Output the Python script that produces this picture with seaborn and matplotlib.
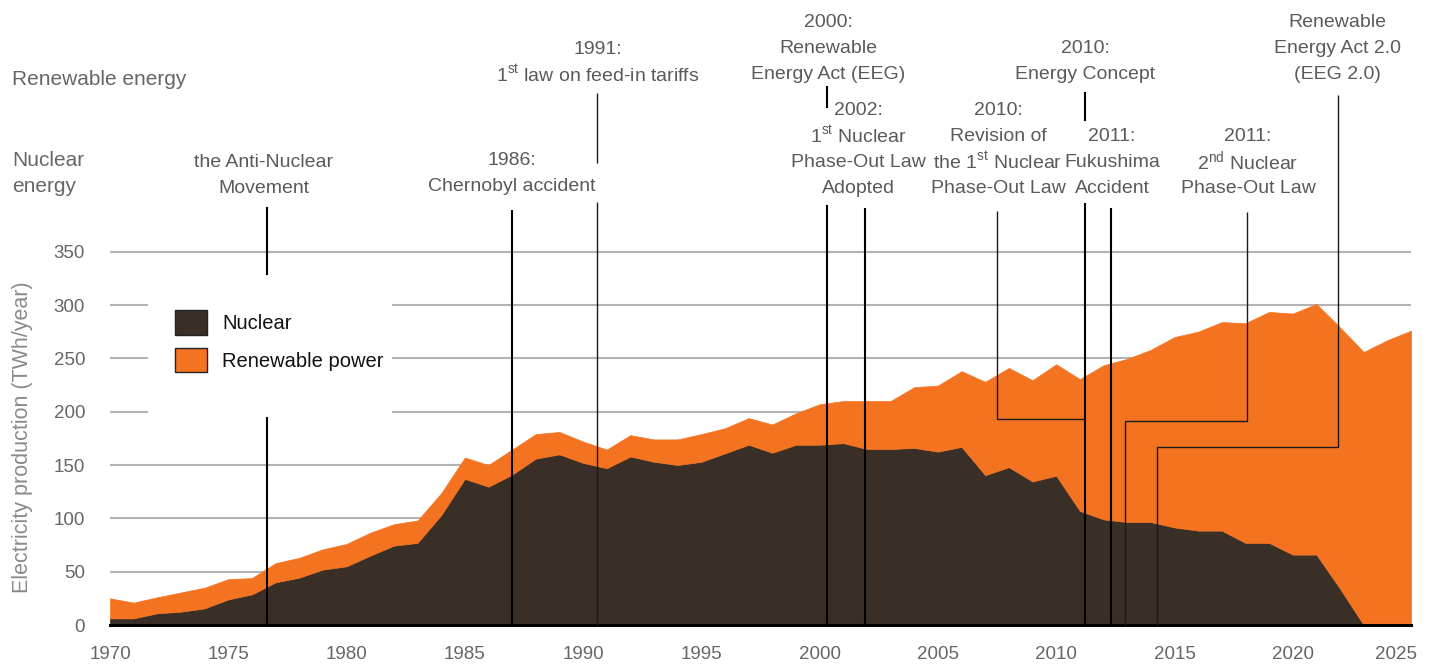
import matplotlib
matplotlib.use("Agg")
import matplotlib.pyplot as plt
from matplotlib.patches import Patch, Rectangle
from matplotlib.transforms import ScaledTranslation
import pandas as pd
import seaborn as sns

# ---- data (TWh/year) ----
years = list(range(1970, 2026))
nuclear = [6.2, 6.2, 11, 12.5, 15.6, 24, 28.7, 40, 44.4, 52,
           55, 65, 74.4, 77, 103, 137, 129.7, 141, 156, 160,
           152, 147, 158, 153, 150, 153, 161, 169, 161.5, 169,
           169, 170.5, 165, 165, 166, 162.5, 167, 140.5, 148, 134.5,
           140, 107, 99, 96.5, 96.5, 91.5, 88.5, 88.5, 77, 77,
           66, 66, 34, 0, 0, 0]
renewable = [18.8, 14.8, 15, 18, 19.4, 19, 15.3, 18, 18.6, 19,
             21, 21.5, 20.1, 21, 20.5, 20, 20.3, 23.5, 23, 21,
             20, 17.5, 20, 21, 24, 26, 23.5, 25, 26.5, 29.5,
             38, 39.5, 45, 45, 57, 62, 71, 87.5, 93, 95,
             104.5, 123.5, 144.5, 153, 161.5, 178.5, 186.5, 195.5, 206, 216.5,
             226, 235, 245, 256, 267, 276]
series_names = ["Nuclear", "Renewable power"]
y_ticks = [0, 50, 100, 150, 200, 250, 300, 350]
x_ticks = list(range(1970, 2026, 5))

event_labels = [
    ["the Anti-Nuclear", "Movement"],
    ["1986:", "Chernobyl accident"],
    ["1991:", r"1$^{\rm st}$ law on feed-in tariffs"],
    ["2000:", "Renewable", "Energy Act (EEG)"],
    ["2002:", r"1$^{\rm st}$ Nuclear", "Phase-Out Law", "Adopted"],
    ["2010:", "Revision of", r"the 1$^{\rm st}$ Nuclear", "Phase-Out Law"],
    ["2010:", "Energy Concept"],
    ["2011:", "Fukushima", "Accident"],
    ["2011:", r"2$^{\rm nd}$ Nuclear", "Phase-Out Law"],
    ["Renewable", "Energy Act 2.0", "(EEG 2.0)"],
]

# ---- layout ----
W, H = 1429, 664
label_x_px = [264, 512, 598, 828, 858, 998, 1085, 1112, 1248, 1337]
label_top_px = [160, 158, 47, 20, 108, 108, 46, 134, 134, 20]
line_step_px = 26

# leader lines in (year, TWh) units
thick_lines = [
    ([1976.65, 1976.65], [392, 0]),
    ([1987.0, 1987.0], [389, 0]),
    ([2000.3, 2000.3], [505, 485]),
    ([2000.3, 2000.3], [394, 0]),
    ([2001.9, 2001.9], [391, 0]),
    ([2011.2, 2011.2], [500, 473]),
    ([2011.2, 2011.2], [396, 0]),
    ([2012.3, 2012.3], [391, 0]),
]
thin_lines = [
    ([1990.6, 1990.6], [499, 433]),
    ([1990.6, 1990.6], [397, 0]),
    ([2007.5, 2007.5, 2011.2], [388, 193, 193]),
    ([2018.05, 2018.05, 2012.9, 2012.9], [387, 191, 191, 0]),
    ([2021.9, 2021.9, 2014.25, 2014.25], [497, 167, 167, 0]),
]

colors = {"Nuclear": "#3a2f26", "Renewable power": "#f47321"}

sns.set_theme(style="white")
plt.rcParams["font.family"] = ["Liberation Sans", "DejaVu Sans"]
plt.rcParams["mathtext.fontset"] = "custom"
plt.rcParams["mathtext.rm"] = "Liberation Sans"

df = pd.DataFrame({
    "year": years * 2,
    "source": ["Nuclear"] * len(years) + ["Renewable power"] * len(years),
    "twh": nuclear + renewable,
})

fig = plt.figure(figsize=(W / 100 + 0.0001, H / 100 + 0.0001), dpi=100)
ax = fig.add_axes([110 / W, 39 / H, 1301 / W, 625 / H])

# last hue level is stacked at the bottom
sns.histplot(data=df, x="year", weights="twh", hue="source",
             hue_order=["Renewable power", "Nuclear"], palette=colors,
             multiple="stack", element="poly", discrete=True,
             alpha=1, edgecolor="face", linewidth=0.5, legend=False, ax=ax)

ax.set_xlim(1970, 2025)
ax.set_ylim(0, 586)
ax.set_xlabel("")
ax.set_ylabel("")
ax.set_yticks(y_ticks)
ax.set_xticks(x_ticks)
ax.yaxis.grid(True, color="#b3b3b3", linewidth=1.5)
ax.xaxis.grid(False)
ax.set_axisbelow(True)
for side in ["left", "top", "right"]:
    ax.spines[side].set_visible(False)
ax.spines["bottom"].set_color("black")
ax.spines["bottom"].set_linewidth(2.2)
ax.tick_params(axis="y", length=0, pad=18, labelsize=13.5, labelcolor="#666666")
ax.tick_params(axis="x", length=0, pad=15, labelsize=13.5, labelcolor="#666666")
ax.patch.set_alpha(0)

# keep the last year label inside the canvas
last = ax.get_xticklabels()[-1]
last.set_transform(last.get_transform() + ScaledTranslation(-0.15, 0, fig.dpi_scale_trans))

for xs, ys in thick_lines:
    ax.plot(xs, ys, color="black", lw=1.5, clip_on=False, zorder=3,
            solid_capstyle="butt")
for xs, ys in thin_lines:
    ax.plot(xs, ys, color="#1a1a1a", lw=1.0, clip_on=False, zorder=3,
            solid_capstyle="butt", solid_joinstyle="miter")

# white box behind the legend (hides gridlines and the leader line)
ax.add_patch(Rectangle((148, H - 417), 244, 142, transform=None,
                       facecolor="white", edgecolor="none", zorder=4, clip_on=False))

handles = [Patch(facecolor=colors[n], edgecolor="#222222", linewidth=1) for n in series_names]
leg = ax.legend(handles, series_names, loc="upper left",
                bbox_to_anchor=(175 / W, 1 - 310 / H), bbox_transform=fig.transFigure,
                borderaxespad=0, borderpad=0, frameon=False,
                handlelength=1.6, handleheight=1.5, handletextpad=0.75,
                labelspacing=0.65, fontsize=14.5, labelcolor="#111111")
leg.set_zorder(10)

for lines, cx, top in zip(event_labels, label_x_px, label_top_px):
    for i, s in enumerate(lines):
        fig.text(cx / W, 1 - (top + i * line_step_px + 2) / H, s,
                 ha="center", va="center", fontsize=14, color="#5a5a5a")

fig.text(12 / W, 1 - 79 / H, "Renewable energy", ha="left", va="center",
         fontsize=15, color="#666666")
fig.text(12 / W, 1 - 160 / H, "Nuclear", ha="left", va="center",
         fontsize=15, color="#666666")
fig.text(12 / W, 1 - 186 / H, "energy", ha="left", va="center",
         fontsize=15, color="#666666")
fig.text(22 / W, 1 - 437 / H, "Electricity production (TWh/year)", rotation=90,
         ha="center", va="center", fontsize=15.5, color="#8a8a8a")

fig.savefig("out.png", dpi=100)
